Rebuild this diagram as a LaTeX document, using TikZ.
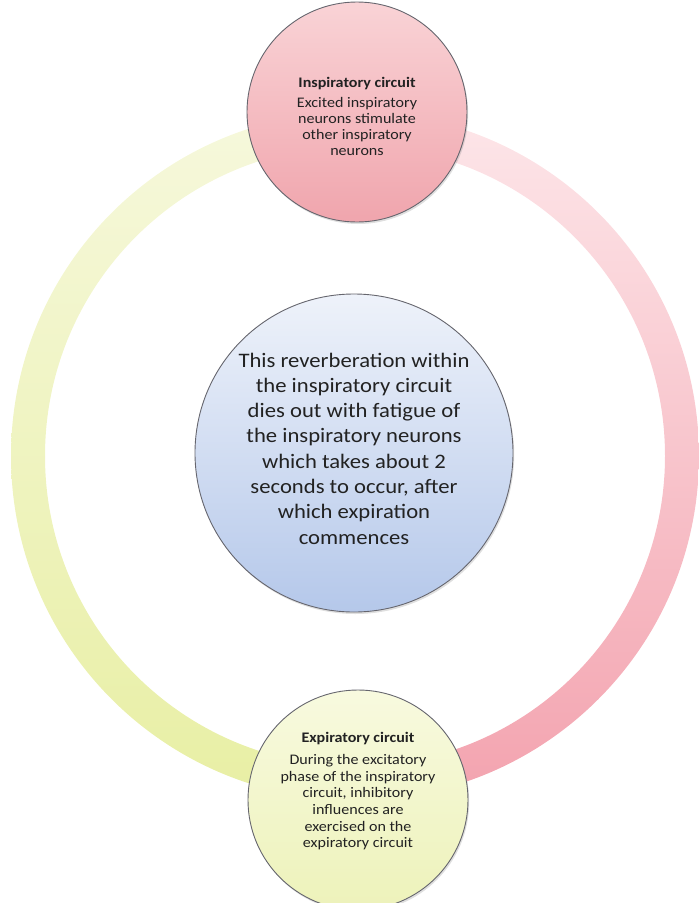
\documentclass[tikz,border=0pt]{standalone}
\usepackage{fontspec}
\setmainfont{Carlito}
\newfontfamily\widefont[FakeStretch=1.1]{Carlito}
\usetikzlibrary{shadows}

\definecolor{ringYellowTop}{HTML}{F6F8DC}
\definecolor{ringYellowBot}{HTML}{E8EFA4}
\definecolor{ringPinkTop}{HTML}{FDE6E9}
\definecolor{ringPinkBot}{HTML}{F3A3AF}
\definecolor{inspTop}{HTML}{F9D3D6}
\definecolor{inspBot}{HTML}{F0A5AD}
\definecolor{midTop}{HTML}{EEF2FA}
\definecolor{midBot}{HTML}{B5C8EA}
\definecolor{expTop}{HTML}{F8FADF}
\definecolor{expBot}{HTML}{EDF2BA}
\definecolor{edge}{HTML}{66666E}
\definecolor{ink}{HTML}{222222}

\tikzset{
  bubble/.style={circle, draw=edge, line width=0.9pt, inner sep=0pt,
    drop shadow={opacity=0.25, shadow xshift=1.2pt, shadow yshift=-2pt}},
  label text/.style={align=center, text=ink, inner sep=0pt},
  toptext/.style={label text, font=\widefont\fontsize{14.6}{16}\selectfont},
  bottext/.style={label text, font=\widefont\fontsize{14.6}{16.6}\selectfont},
  bigtext/.style={label text, font=\widefont\fontsize{20.6}{25.3}\selectfont},
}

\begin{document}
\begin{tikzpicture}[x=1pt, y=-1pt]
  \useasboundingbox (0,0) rectangle (699,903);

  % cycle ring: yellow-green left half, pink right half
  \coordinate (C) at (355,456);
  \begin{scope}
    \clip (0,0) rectangle (355,903);
    \shade[top color=ringYellowTop, bottom color=ringYellowBot, even odd rule]
      (C) circle[radius=344] (C) circle[radius=310];
  \end{scope}
  \begin{scope}
    \clip (355,0) rectangle (699,903);
    \shade[top color=ringPinkTop, bottom color=ringPinkBot, even odd rule]
      (C) circle[radius=344] (C) circle[radius=310];
  \end{scope}

  % inspiratory circuit
  \node[bubble, minimum size=220pt, top color=inspTop, bottom color=inspBot]
    (insp) at (357,112) {};
  \node[toptext] (insp-text) at (357,116.5)
    {\textbf{Inspiratory circuit}\\[4pt]
     Excited inspiratory\\ neurons stimulate\\ other inspiratory\\ neurons};

  % central statement
  \node[bubble, minimum size=318pt, top color=midTop, bottom color=midBot]
    (mid) at (354,453) {};
  \node[bigtext] (mid-text) at (354,448.5)
    {This reverberation within\\ the inspiratory circuit\\ dies out with fatigue of\\
     the inspiratory neurons\\ which takes about 2\\ seconds to occur, after\\
     which expiration\\ commences};

  % expiratory circuit
  \node[bubble, minimum size=220pt, top color=expTop, bottom color=expBot]
    (exp) at (358,800) {};
  \node[bottext] (exp-text) at (358,791)
    {\textbf{Expiratory circuit}\\[6pt]
     During the excitatory\\ phase of the inspiratory\\ circuit, inhibitory\\
     influences are\\ exercised on the\\ expiratory circuit};
\end{tikzpicture}
\end{document}
